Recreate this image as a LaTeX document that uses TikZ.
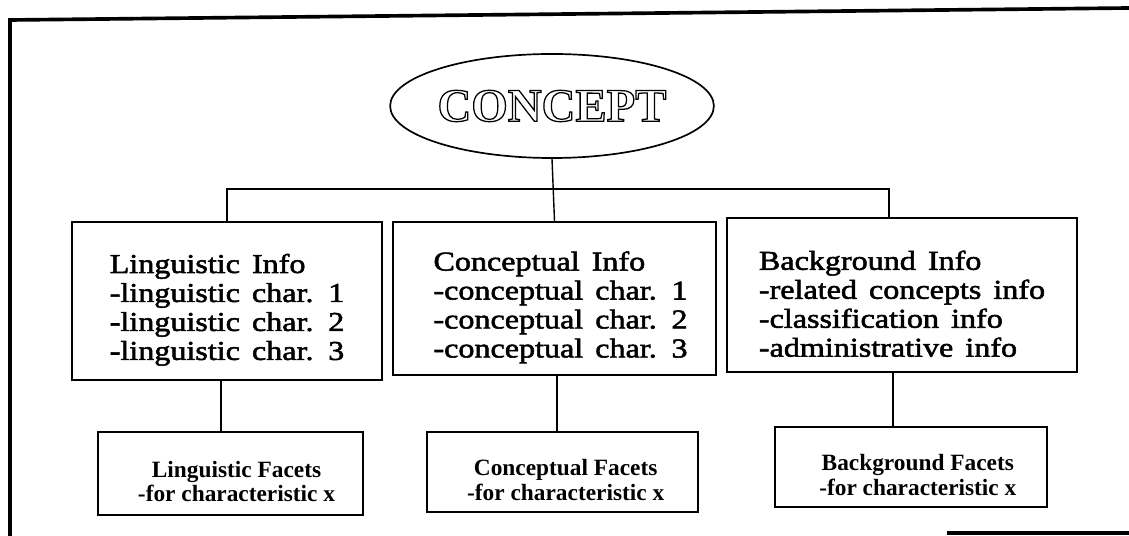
\documentclass[tikz,border=0pt]{standalone}
\usepackage{fontspec}
\setmainfont{Liberation Serif}
\newfontfamily\infofont{Liberation Serif}[FakeStretch=1.18, FakeBold=2, WordSpace=1.5]
\newfontfamily\facetfont{Liberation Serif}[WordSpace=1.0]
\usetikzlibrary{shapes.geometric}

% hollow (stroked) letters for the root label
\newcommand\hollowtext[1]{\special{pdf:literal 1 Tr 0.9 w}#1\special{pdf:literal 0 Tr}}

\tikzset{
  frameline/.style={line width=2.6pt},
  infobox/.style={draw, line width=1.3pt, rectangle, inner sep=0pt},
  infotext/.style={align=left, inner sep=0pt,
    font=\infofont\fontsize{19.35}{20.6}\selectfont},
  facetbox/.style={draw, line width=1.3pt, rectangle, inner sep=0pt},
  facettext/.style={align=center, inner sep=0pt,
    font=\facetfont\bfseries\fontsize{16.6}{17.4}\selectfont},
  wire/.style={line width=1pt},
}

\begin{document}
\begin{tikzpicture}[x=0.025cm, y=-0.025cm]
  \useasboundingbox (0,0) rectangle (1129,536);

  % outer frame of the sheet
  \draw[frameline] (1129,8) -- (10,20) -- (10,536);
  \draw[frameline] (947,533) -- (1129,533);

  % root concept
  \node[draw, ellipse, line width=1.2pt, minimum width=6.55cm, minimum height=2.6cm, inner sep=0pt]
    (concept) at (552,106)
    {\bfseries\fontsize{33.3}{36}\selectfont\hollowtext{CONCEPT}};

  % information boxes
  \node[infobox, minimum width=7.75cm, minimum height=3.95cm] (info1) at (227,301) {};
  \node[infobox, minimum width=8.075cm, minimum height=3.825cm] (info2) at (554.5,298.5) {};
  \node[infobox, minimum width=8.75cm, minimum height=3.85cm] (info3) at (902,295) {};

  \node[infotext] (info1text) at ([yshift=-0.22cm]info1.center)
    {Linguistic Info\\-linguistic char. 1\\-linguistic char. 2\\-linguistic char. 3};
  \node[infotext] (info2text) at ([xshift=0.15cm, yshift=-0.22cm]info2.center)
    {Conceptual Info\\-conceptual char. 1\\-conceptual char. 2\\-conceptual char. 3};
  \node[infotext] (info3text) at ([yshift=-0.22cm]info3.center)
    {Background Info\\-related concepts info\\-classification info\\-administrative info};

  % facet boxes
  \node[facetbox, minimum width=6.625cm, minimum height=2.075cm] (facet1) at (230.5,473.5) {};
  \node[facetbox, minimum width=6.775cm, minimum height=2.0cm] (facet2) at (562.5,472) {};
  \node[facetbox, minimum width=6.8cm, minimum height=2.0cm] (facet3) at (911,467) {};

  \node[facettext] (facet1text) at ([xshift=0.15cm, yshift=-0.2cm]facet1.center)
    {Linguistic Facets\\-for characteristic x};
  \node[facettext] (facet2text) at ([xshift=0.08cm, yshift=-0.2cm]facet2.center)
    {Conceptual Facets\\-for characteristic x};
  \node[facettext] (facet3text) at ([xshift=0.17cm, yshift=-0.2cm]facet3.center)
    {Background Facets\\-for characteristic x};

  % tree connectors
  \coordinate (busL) at (227,189);
  \coordinate (busR) at (889,189);
  \draw[wire] (concept.south) -- (info2.north);
  \draw[wire] (info1.north) -- (busL) -- (busR) -- (busR |- info3.north);

  \coordinate (d1) at (221,0);
  \coordinate (d2) at (557,0);
  \coordinate (d3) at (893,0);
  \draw[wire] (info1.south -| d1) -- (facet1.north -| d1);
  \draw[wire] (info2.south -| d2) -- (facet2.north -| d2);
  \draw[wire] (info3.south -| d3) -- (facet3.north -| d3);
\end{tikzpicture}
\end{document}
